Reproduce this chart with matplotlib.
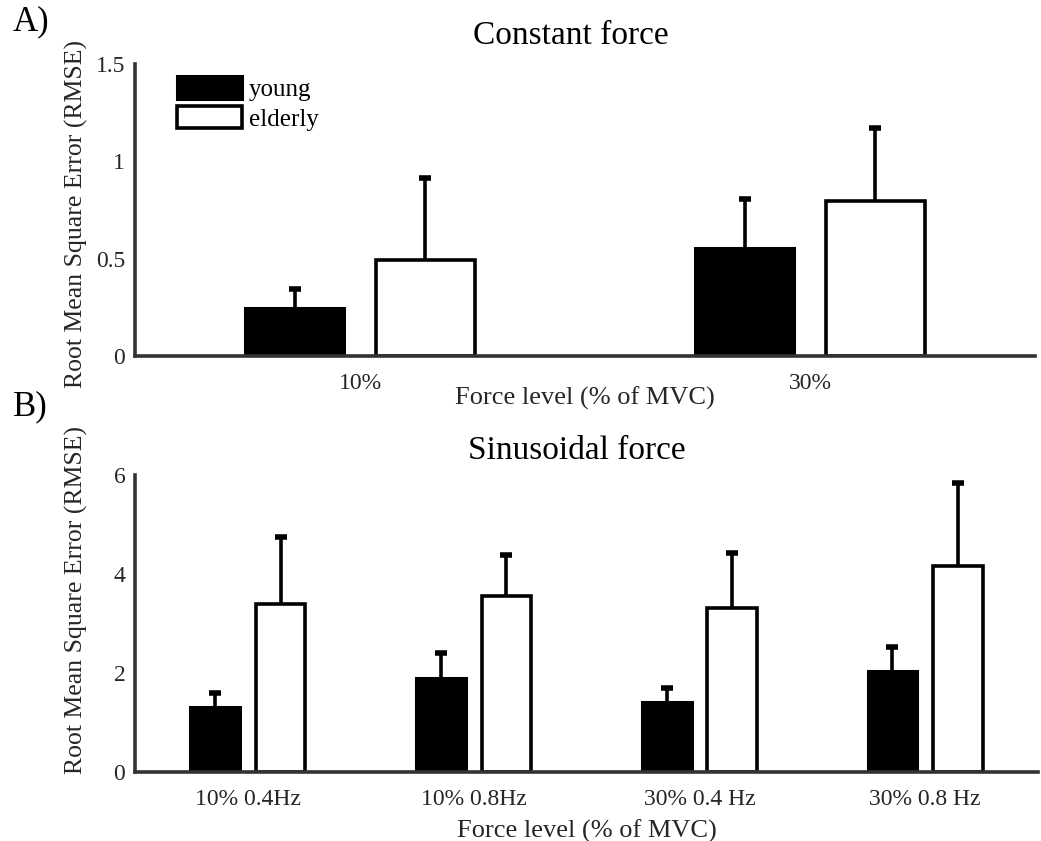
import numpy as np
import matplotlib
matplotlib.use('Agg')
import matplotlib.pyplot as plt

plt.rcParams['font.family'] = ['Liberation Serif', 'DejaVu Serif']

# Panel A: constant force
const_levels = ['10%', '30%']
const_young = [0.247, 0.555]
const_young_sd = [0.097, 0.251]
const_elderly = [0.493, 0.796]
const_elderly_sd = [0.421, 0.375]

# Panel B: sinusoidal force
sin_levels = ['10% 0.4Hz', '10% 0.8Hz', '30% 0.4 Hz', '30% 0.8 Hz']
sin_young = [1.31, 1.90, 1.41, 2.04]
sin_young_sd = [0.29, 0.50, 0.29, 0.49]
sin_elderly = [3.39, 3.56, 3.31, 4.16]
sin_elderly_sd = [1.36, 0.82, 1.11, 1.68]

grey = '#262626'
bar_w = 0.22
off = 0.145


def draw_panel(ax, labels, young, young_sd, elderly, elderly_sd):
    x = np.arange(1, len(labels) + 1)
    young = np.array(young)
    elderly = np.array(elderly)
    ax.bar(x - off, young, bar_w, color='black', edgecolor='black', linewidth=2.2,
           label='young', zorder=2)
    ax.bar(x + off, elderly, bar_w, color='white', edgecolor='black', linewidth=2.6,
           label='elderly', zorder=2)
    # one-sided error bars (upper only)
    for xs, ys, sd in [(x - off, young, young_sd), (x + off, elderly, elderly_sd)]:
        tops = ys + np.array(sd)
        ax.vlines(xs, ys, tops, color='black', linewidth=2.6, zorder=1)
        ax.plot(xs, tops, linestyle='none', marker='_', markersize=9,
                markeredgewidth=4, color='black', zorder=1)
    ax.set_xticks(x)
    ax.set_xticklabels(labels)
    ax.set_xlim(0.5, len(labels) + 0.5)
    for s in ['top', 'right']:
        ax.spines[s].set_visible(False)
    for s in ['left', 'bottom']:
        ax.spines[s].set_linewidth(2.6)
        ax.spines[s].set_color('#333333')
        ax.spines[s].set_zorder(3)
    ax.tick_params(length=0, labelsize=17, colors=grey)
    ax.tick_params(axis='x', pad=12)
    ax.tick_params(axis='y', pad=7)


fig = plt.figure(figsize=(10.41, 8.41), dpi=100)

ax1 = fig.add_axes([0.1297, 0.5767, 0.8646, 0.3472])
draw_panel(ax1, const_levels, const_young, const_young_sd, const_elderly, const_elderly_sd)
ax1.set_ylim(0, 1.5)
ax1.set_yticks([0, 0.5, 1, 1.5])
ax1.set_yticklabels(['0', '0.5', '1', '1.5'])
ax1.set_xlabel('Force level (% of MVC)', fontsize=19, color=grey)
ax1.xaxis.set_label_coords(0.5, -0.105)
ax1.set_ylabel('Root Mean Square Error (RMSE)', fontsize=18.5, color=grey)
ax1.yaxis.set_label_coords(-0.052, 0.486)
leg = ax1.legend(loc='upper left', bbox_to_anchor=(0.047, 0.958), frameon=False,
                 fontsize=18, handlelength=2.6, handleheight=1.0, labelspacing=0.2,
                 handletextpad=0.25, borderpad=0, borderaxespad=0)

ax2 = fig.add_axes([0.1297, 0.0820, 0.8675, 0.3532])
draw_panel(ax2, sin_levels, sin_young, sin_young_sd, sin_elderly, sin_elderly_sd)
ax2.set_ylim(0, 6)
ax2.set_yticks([0, 2, 4, 6])
ax2.set_xlabel('Force level (% of MVC)', fontsize=19, color=grey)
ax2.xaxis.set_label_coords(0.5, -0.16)
ax2.set_ylabel('Root Mean Square Error (RMSE)', fontsize=18.5, color=grey)
ax2.yaxis.set_label_coords(-0.052, 0.58)

fig.text(0.548, 1 - 36 / 841, 'Constant force', fontsize=24, ha='center', va='center')
fig.text(0.554, 1 - 451 / 841, 'Sinusoidal force', fontsize=24, ha='center', va='center')
fig.text(0.012, 1 - 22 / 841, 'A)', fontsize=25, ha='left', va='center')
fig.text(0.012, 1 - 407 / 841, 'B)', fontsize=25, ha='left', va='center')

fig.savefig('out.png', dpi=100)
